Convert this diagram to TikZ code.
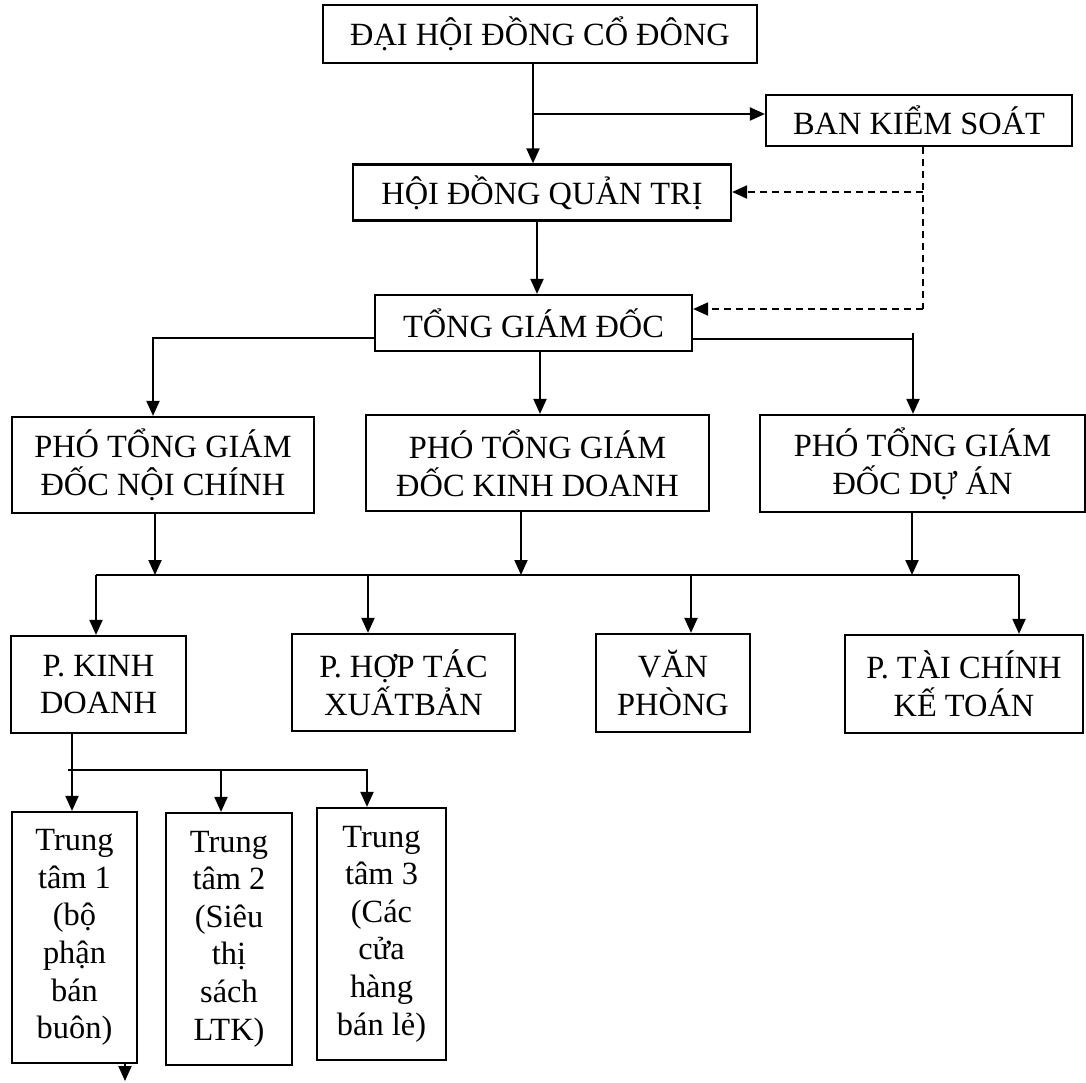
\documentclass[tikz,border=0pt]{standalone}
\usepackage{fontspec}
\setmainfont{Liberation Serif}
\usetikzlibrary{arrows.meta,positioning,calc}

\tikzset{
  box/.style={draw, line width=1.1pt, inner sep=0pt, align=center,
    font=\fontsize{16.2}{18.8}\selectfont},
  arr/.style={line width=1pt, -{Triangle[length=7.5pt,width=6.5pt]}},
  link/.style={line width=1pt},
  dsh/.style={line width=1pt, dash pattern=on 3.5pt off 2.5pt}
}

\begin{document}
\begin{tikzpicture}[x=0.5pt, y=-0.5pt]
\useasboundingbox (0,0) rectangle (1086,1082);

% top levels
\node[box, minimum width=217pt, minimum height=29pt] (dhcd) at (540,34) {ĐẠI HỘI ĐỒNG CỔ ĐÔNG};
\node[box, minimum width=153pt, minimum height=25.5pt] (bks) at (919,120.5) {BAN KIỂM SOÁT};
\node[box, minimum width=189pt, minimum height=28pt] (hdqt) at (542,192.5) {HỘI ĐỒNG QUẢN TRỊ};
\node[box, minimum width=158.5pt, minimum height=28pt] (tgd) at (533.5,323) {TỔNG GIÁM ĐỐC};

% deputies
\node[box, minimum width=151pt, minimum height=48pt] (pnc) at (163,465) {PHÓ TỔNG GIÁM\\ĐỐC NỘI CHÍNH};
\node[box, minimum width=171.5pt, minimum height=48pt] (pkd) at (537.5,463) {PHÓ TỔNG GIÁM\\ĐỐC KINH DOANH};
\node[box, minimum width=162.5pt, minimum height=48.5pt] (pda) at (922.5,463.5) {PHÓ TỔNG GIÁM\\ĐỐC DỰ ÁN};

% departments
\node[box, minimum width=87.5pt, minimum height=48.5pt] (pkinh) at (98.5,684.5) {P. KINH\\DOANH};
\node[box, minimum width=111.5pt, minimum height=48.5pt] (phoptac) at (403.5,682.5) {P. HỢP TÁC\\XUẤTBẢN};
\node[box, minimum width=77pt, minimum height=49pt] (vanphong) at (673,683) {VĂN\\PHÒNG};
\node[box, minimum width=119pt, minimum height=49pt] (ptaichinh) at (964,684) {P. TÀI CHÍNH\\KẾ TOÁN};

% centres
\node[box, minimum width=62.5pt, minimum height=125.5pt] (tt1) at (74.5,937.5) {Trung\\tâm 1\\(bộ\\phận\\bán\\buôn)};
\node[box, minimum width=63pt, minimum height=126pt] (tt2) at (229,939) {Trung\\tâm 2\\(Siêu\\thị\\sách\\LTK)};
\node[box, minimum width=64.5pt, minimum height=126pt] (tt3) at (381.5,934) {Trung\\tâm 3\\(Các\\cửa\\hàng\\bán lẻ)};

% junction points
\coordinate (j1) at (533,114);
\coordinate (j2) at (537,260);
\coordinate (d1) at (923,192);
\coordinate (d2) at (923,309);
\coordinate (l1) at (153,338);
\coordinate (m1) at (540,380);
\coordinate (r0) at (913,333);
\coordinate (r1) at (913,339);
\coordinate (b1) at (96,575);
\coordinate (b2) at (1019,575);
\coordinate (s0) at (72,770);
\coordinate (s1) at (68,770);
\coordinate (s2) at (368,770);
\coordinate (tail) at (125,1081);

% shareholders, board, supervisors
\draw[arr] (dhcd.south -| j1) -- (j1 |- hdqt.north);
\draw[arr] (j1) -- (j1 -| bks.west);
\draw[arr] (hdqt.south -| j2) -- (j2 |- tgd.north);
\draw[dsh] (bks.south -| d1) -- (d2);
\draw[dsh, -{Triangle[length=7.5pt,width=6.5pt]}] (d1) -- (d1 -| hdqt.east);
\draw[dsh, -{Triangle[length=7.5pt,width=6.5pt]}] (d2) -- (d2 -| tgd.east);

% director to deputies
\draw[arr] (tgd.west |- l1) -- (l1) -- (l1 |- pnc.north);
\draw[arr] (tgd.south -| m1) -- (m1 |- pkd.north);
\draw[link] (tgd.east |- r1) -- (r1);
\draw[arr] (r0) -- (r0 |- pda.north);

% deputies to departments
\draw[link] (b1) -- (b2);
\foreach \nd/\xx in {pnc/155, pkd/521, pda/912}
  \draw[arr] (\nd.south -| {\xx,0}) -- ({\xx,0} |- b1);
\foreach \nd/\xx in {pkinh/96, phoptac/368, vanphong/691, ptaichinh/1019}
  \draw[arr] ({\xx,0} |- b1) -- ({\xx,0} |- \nd.north);

% sales department to centres
\draw[arr] (pkinh.south -| s0) -- (s0 |- tt1.north);
\draw[link] (s1) -- (s2);
\draw[arr] ({221,0} |- s1) -- ({221,0} |- tt2.north);
\draw[arr] ({367,0} |- s1) -- ({367,0} |- tt3.north);
\draw[arr] (tt1.south -| tail) -- (tail);
\end{tikzpicture}
\end{document}
